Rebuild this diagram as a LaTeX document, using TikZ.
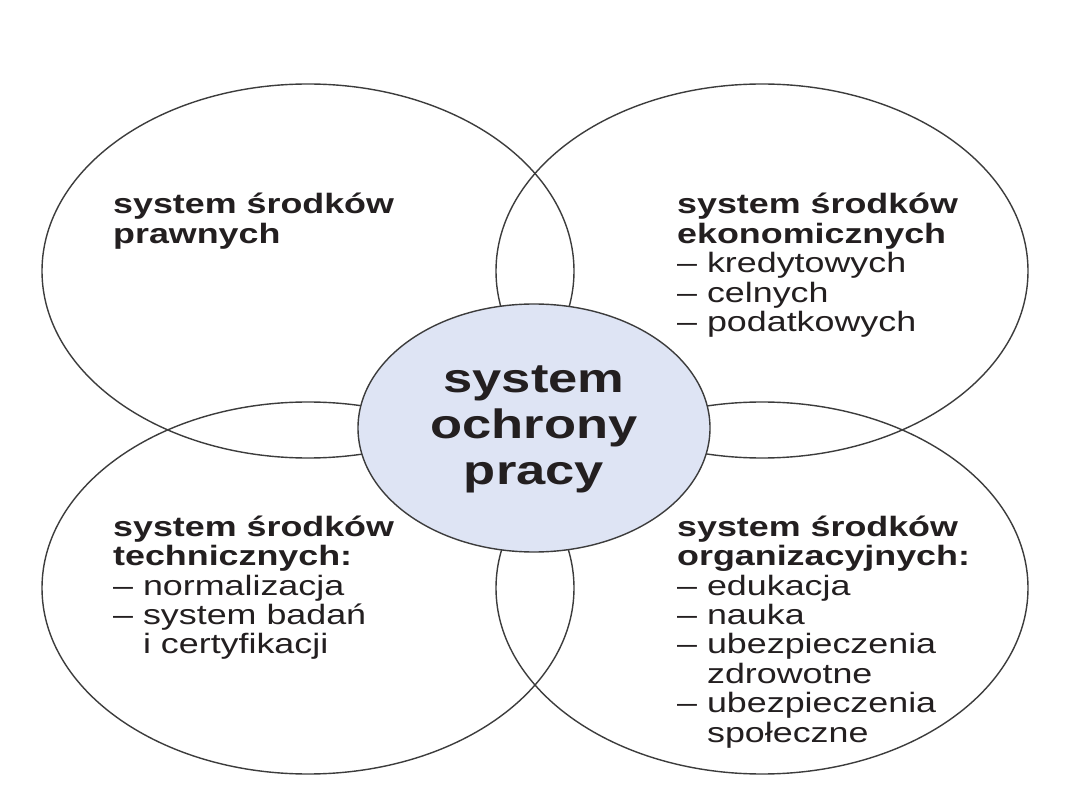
\documentclass[tikz,border=0pt]{standalone}
\usepackage{fontspec}
\usetikzlibrary{shapes.geometric}
\newfontfamily\dg[FakeStretch=1.28]{Liberation Sans}
\definecolor{txt}{HTML}{231F20}
\definecolor{edge}{HTML}{3C3C3C}
\definecolor{core}{HTML}{DEE4F4}
\tikzset{
  ring/.style={draw=edge, line width=1.4pt},
  lbl/.style={anchor=base west, inner sep=0pt, text=txt, font=\dg\fontsize{28}{29.5}\selectfont},
  corelbl/.style={anchor=base, inner sep=0pt, text=txt, font=\dg\bfseries\fontsize{41}{46}\selectfont}
}
\begin{document}
\begin{tikzpicture}[x=1pt,y=-1pt]
\useasboundingbox (0,0) rectangle (1080,810);
\fill[white] (0,0) rectangle (1080,810);
% four outer ellipses
\draw[ring] (308,271) ellipse [x radius=266, y radius=187];
\draw[ring] (762,271) ellipse [x radius=266, y radius=187];
\draw[ring] (308,588) ellipse [x radius=266, y radius=186];
\draw[ring] (762,588) ellipse [x radius=266, y radius=186];
% centre
\node[ring, fill=core, ellipse, minimum width=352pt, minimum height=248pt, inner sep=0pt] (c) at (534,428) {};
\node[corelbl] (ct) at (534,393) {\begin{tabular}[t]{@{}c@{}}system\\ochrony\\pracy\end{tabular}};
% labels
\node[lbl] (tl) at (113,214) {\begin{tabular}[t]{@{}l@{}}\textbf{system środków}\\\textbf{prawnych}\end{tabular}};
\node[lbl] (tr) at (677,214) {\begin{tabular}[t]{@{}l@{}}\textbf{system środków}\\\textbf{ekonomicznych}\\– kredytowych\\– celnych\\– podatkowych\end{tabular}};
\node[lbl] (bl) at (113,536) {\begin{tabular}[t]{@{}l@{}}\textbf{system środków}\\\textbf{technicznych:}\\– normalizacja\\– system badań\\\phantom{– }i certyfikacji\end{tabular}};
\node[lbl] (br) at (677,536) {\begin{tabular}[t]{@{}l@{}}\textbf{system środków}\\\textbf{organizacyjnych:}\\– edukacja\\– nauka\\– ubezpieczenia\\\phantom{– }zdrowotne\\– ubezpieczenia\\\phantom{– }społeczne\end{tabular}};
\end{tikzpicture}
\end{document}
